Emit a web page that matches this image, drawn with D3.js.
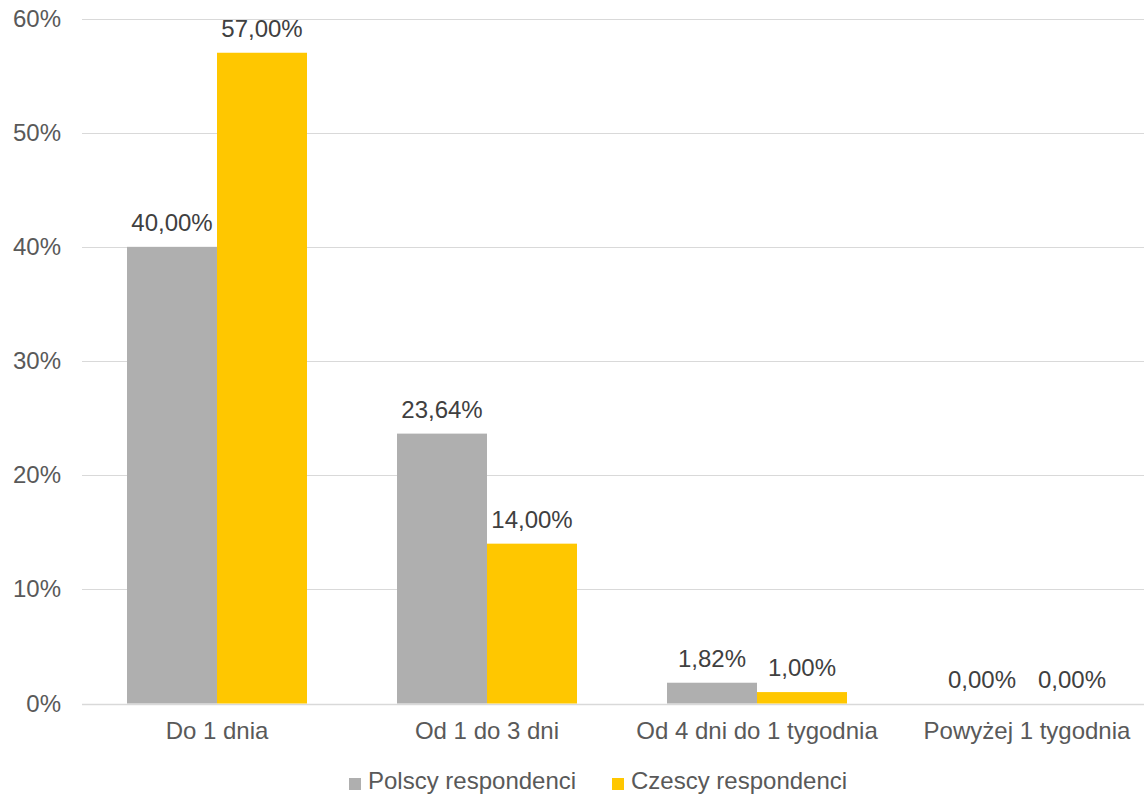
<!DOCTYPE html>
<html>
<head>
<meta charset="utf-8">
<script src="https://cdn.jsdelivr.net/npm/d3@7"></script>
<style>
  html, body { margin: 0; padding: 0; background: #fff; }
  svg { display: block; font-family: "Liberation Sans", Arial, sans-serif; }
</style>
</head>
<body>
<svg id="chart" width="1144" height="795"></svg>
<script>
// Czas reakcji – odsetek respondentów w każdej kategorii
const categories = ["Do 1 dnia", "Od 1 do 3 dni", "Od 4 dni do 1 tygodnia", "Powyżej 1 tygodnia"];
const seriesNames = ["Polscy respondenci", "Czescy respondenci"];
const polskie = [40.00, 23.64, 1.82, 0.00];
const czeskie = [57.00, 14.00, 1.00, 0.00];
const yTicks = [0, 10, 20, 30, 40, 50, 60];
const colors = ["#afafaf", "#ffc700"];

const svg = d3.select("#chart");
const plotLeft = 82, plotRight = 1162, plotTop = 18.5, plotBottom = 703.5;
const fontSize = 24;

const x = d3.scaleBand().domain(categories).range([plotLeft, plotRight]).paddingInner(1/3).paddingOuter(1/6);
const xs = d3.scaleBand().domain(seriesNames).range([0, x.bandwidth()]);
const y = d3.scaleLinear().domain([0, 60]).range([plotBottom, plotTop]);

const textColor = "#595959";
const fmt = v => v.toFixed(2).replace(".", ",") + "%";

// Linie siatki
svg.append("g").selectAll("line").data(yTicks).join("line")
  .attr("x1", plotLeft).attr("x2", plotRight)
  .attr("y1", d => Math.round(y(d)) + 0.5).attr("y2", d => Math.round(y(d)) + 0.5)
  .attr("stroke", "#d9d9d9").attr("stroke-width", d => d === 0 ? 1.5 : 1);

// Etykiety osi Y
svg.append("g").selectAll("text").data(yTicks).join("text")
  .attr("x", 61).attr("y", d => y(d) + 8)
  .attr("text-anchor", "end").attr("font-size", fontSize).attr("fill", textColor)
  .text(d => d + "%");

// Słupki
const rows = categories.map((c, i) => [polskie[i], czeskie[i]]);
const groups = svg.append("g").selectAll("g").data(categories).join("g")
  .attr("transform", c => `translate(${x(c)},0)`);

groups.selectAll("rect").data((c, i) => rows[i].map((v, k) => ({ v, k })))
  .join("rect")
  .attr("x", d => xs(seriesNames[d.k]))
  .attr("width", xs.bandwidth())
  .attr("y", d => y(d.v))
  .attr("height", d => y(0) - y(d.v))
  .attr("fill", d => colors[d.k]);

groups.selectAll("text.val").data((c, i) => rows[i].map((v, k) => ({ v, k })))
  .join("text").attr("class", "val")
  .attr("x", d => xs(seriesNames[d.k]) + xs.bandwidth() / 2)
  .attr("y", d => y(d.v) - 16)
  .attr("text-anchor", "middle").attr("font-size", fontSize).attr("fill", "#404040")
  .text(d => fmt(d.v));

// Etykiety kategorii
svg.append("g").selectAll("text").data(categories).join("text")
  .attr("x", c => x(c) + x.bandwidth() / 2).attr("y", 739)
  .attr("text-anchor", "middle").attr("font-size", fontSize).attr("fill", textColor)
  .text(c => c);

// Legenda
const legendX = [349, 612];
const legend = svg.append("g").selectAll("g").data(seriesNames).join("g")
  .attr("transform", (d, i) => `translate(${legendX[i]},778)`);
legend.append("rect").attr("width", 12).attr("height", 12).attr("fill", (d, i) => colors[i]);
legend.append("text").attr("x", 19).attr("y", 11)
  .attr("font-size", fontSize).attr("fill", textColor).text(d => d);
</script>
</body>
</html>
